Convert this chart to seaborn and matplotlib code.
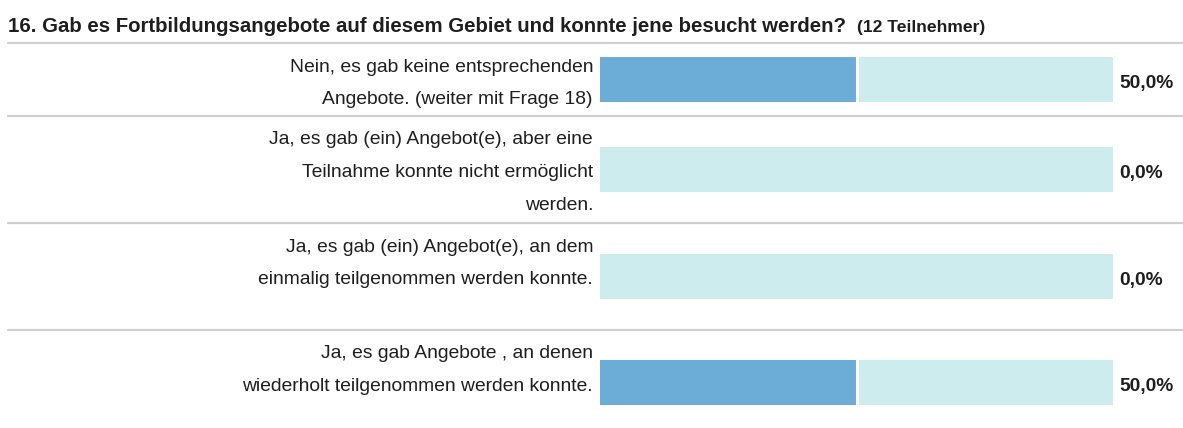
import matplotlib
matplotlib.use("Agg")
import matplotlib.pyplot as plt
import seaborn as sns
import pandas as pd
from matplotlib.lines import Line2D

sns.set_theme(style="white")
plt.rcParams['font.family'] = ['Liberation Sans', 'DejaVu Sans']

# ---- data ----
title = "16. Gab es Fortbildungsangebote auf diesem Gebiet und konnte jene besucht werden?"
subtitle = "(12 Teilnehmer)"
categories = [
    "Nein, es gab keine entsprechenden\nAngebote. (weiter mit Frage 18)",
    "Ja, es gab (ein) Angebot(e), aber eine\nTeilnahme konnte nicht ermöglicht\nwerden.",
    "Ja, es gab (ein) Angebot(e), an dem\neinmalig teilgenommen werden konnte.",
    "Ja, es gab Angebote , an denen\nwiederholt teilgenommen werden konnte.",
]
percent = [50.0, 0.0, 0.0, 50.0]
pct_labels = ["50,0%", "0,0%", "0,0%", "50,0%"]

# ---- layout (pixels) ----
W, H = 1183, 428
fig = plt.figure(figsize=(W / 100, H / 100), dpi=100)
fig.patch.set_facecolor("white")

sep_y = [43, 116, 223, 330]
bar_top = [57, 147, 254, 360]
bar_h = 44.5
bar_x0, bar_x1 = 600, 1113
blue = "#6badd6"
light = "#cdecee"
txt = "#1e1e1e"

def fx(px):
    return px / W

def fy(py):
    return 1 - py / H

# title
fig.text(fx(8), fy(32), title, fontsize=14.7, fontweight="bold", color=txt, va="baseline", ha="left")
fig.text(fx(857), fy(32), subtitle, fontsize=12.6, fontweight="bold", color=txt, va="baseline", ha="left")

# separators
for y in sep_y:
    fig.add_artist(Line2D([fx(8), 1.0], [fy(y), fy(y)], color="#cfcfcf", lw=1.6, transform=fig.transFigure))

for i, (cat, val, lab) in enumerate(zip(categories, percent, pct_labels)):
    ax = fig.add_axes([fx(bar_x0), fy(bar_top[i] + bar_h), fx(bar_x1) - fx(bar_x0), bar_h / H])
    df = pd.DataFrame({"cat": [cat], "full": [100.0], "val": [val]})
    sns.barplot(data=df, y="cat", x="full", color=light, width=1.0, ax=ax,
                linewidth=0, saturation=1)
    if val > 0:
        sns.barplot(data=df, y="cat", x="val", color=blue, width=1.0, ax=ax,
                    linewidth=0, saturation=1)
        ax.axvline(val, color="white", lw=2.2)
    ax.set_xlim(0, 100)
    ax.set_ylim(0.5, -0.5)
    ax.axis("off")
    # percent label
    ax.text(1.0 + 6 / (bar_x1 - bar_x0), 0.41, lab, transform=ax.transAxes,
            ha="left", va="center", fontsize=13.8, fontweight="bold", color=txt)
    # category label lines
    for j, line in enumerate(cat.split("\n")):
        fig.text(fx(593), fy(sep_y[i] + 24 + 32.5 * j), line, ha="right", va="center",
                 fontsize=13.9, color=txt)

fig.savefig("out.png", dpi=100, facecolor="white")
